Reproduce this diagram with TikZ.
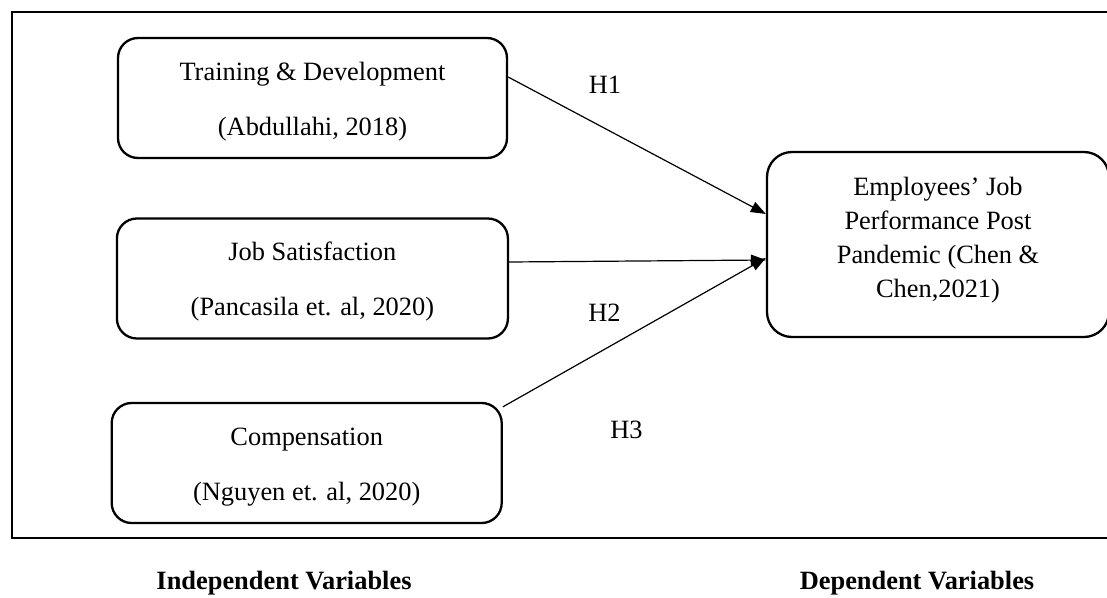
\documentclass[tikz,border=0pt]{standalone}
\usepackage{fontspec}
\setmainfont{Liberation Serif}
\usetikzlibrary{arrows.meta}
\newcommand{\bstrut}{\rule[-4pt]{0pt}{29pt}}
\newcommand{\dstrut}{\rule[-14.5pt]{0pt}{33pt}}
\begin{document}
\begin{tikzpicture}[x=1pt,y=-1pt,
  varbox/.style={draw, line width=2.3pt, rounded corners=20pt, minimum height=120pt,
    align=center, inner sep=0pt, font=\fontsize{26.4}{55}\selectfont},
  depbox/.style={draw, line width=2.3pt, rounded corners=25pt, minimum width=342pt,
    minimum height=185pt, align=center, inner sep=0pt, font=\fontsize{26.4}{32.3}\selectfont},
  link/.style={line width=1.2pt, -{Triangle[length=15pt,width=11pt]}},
  hyp/.style={anchor=base, inner sep=0pt, font=\fontsize{26.4}{30}\selectfont},
  caption/.style={anchor=base, inner sep=0pt, font=\fontsize{26.4}{30}\selectfont\bfseries}
]
\useasboundingbox (0,0) rectangle (1107,597);
\clip (0,0) rectangle (1107,597);
\fill[white] (0,0) rectangle (1107,597);

% outer frame
\draw[line width=2.5pt] (12,12) rectangle (1130,538);

% boxes
\node[varbox, minimum width=389pt] (b1) at (312.5,98)
  {\bstrut Training \& Development\\\bstrut (Abdullahi, 2018)};
\node[varbox, minimum width=391pt] (b2) at (312.4,278.5)
  {\bstrut Job Satisfaction\\\bstrut (Pancasila et. al, 2020)};
\node[varbox, minimum width=390pt] (b3) at (306.7,463)
  {\bstrut Compensation\\\bstrut (Nguyen et. al, 2020)};
\node[depbox] (emp) at (938,244.5)
  {\dstrut Employees’ Job\\\dstrut Performance Post\\\dstrut Pandemic (Chen \&\\\dstrut Chen,2021)};

% connectors
\draw[link] ([yshift=21pt]b1.east) -- ([yshift=30.5pt]emp.west);
\draw[link] ([yshift=16.5pt]b2.east) -- ([yshift=-15.5pt]emp.west);
\draw[link] ([yshift=-5pt]b3.north east) -- ([yshift=-13.5pt]emp.west);

% hypothesis labels
\node[hyp] (h1) at (605,93) {H1};
\node[hyp] (h2) at (604.5,321) {H2};
\node[hyp] (h3) at (626.5,438) {H3};

% captions
\node[caption] (iv) at (284,589.5) {Independent Variables};
\node[caption] (dv) at (917,589.5) {Dependent Variables};
\end{tikzpicture}
\end{document}
